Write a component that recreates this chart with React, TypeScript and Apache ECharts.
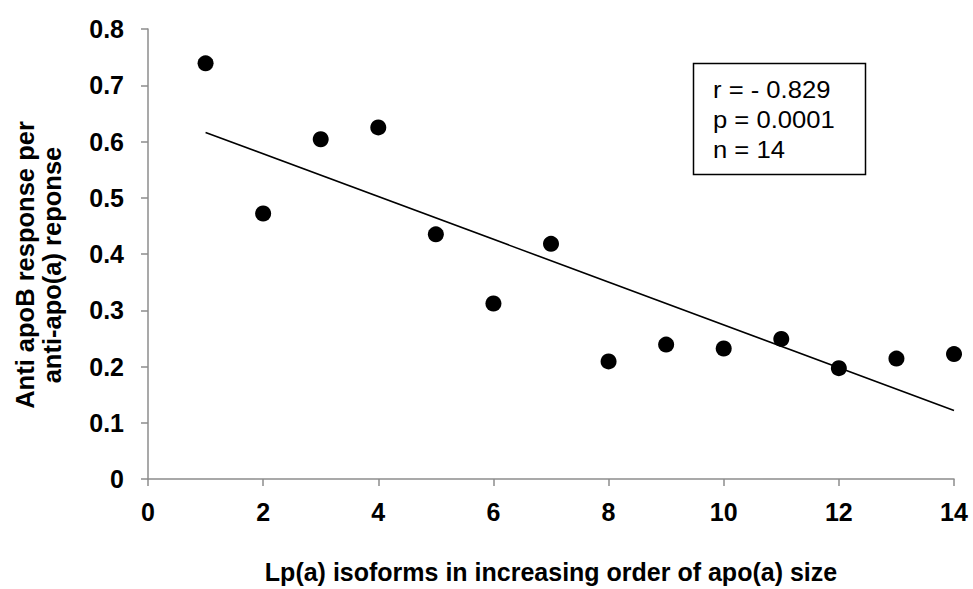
import React, { useEffect, useRef } from "react";
import * as echarts from "echarts";

const isoformRank = [1, 2, 3, 4, 5, 6, 7, 8, 9, 10, 11, 12, 13, 14];
const ratioValues = [0.739, 0.472, 0.604, 0.625, 0.435, 0.312, 0.418, 0.209, 0.239, 0.232, 0.249, 0.197, 0.214, 0.222];
const xTicks = [0, 2, 4, 6, 8, 10, 12, 14];
const yTicks = [0, 0.1, 0.2, 0.3, 0.4, 0.5, 0.6, 0.7, 0.8];
const statsLines = ["r = - 0.829", "p = 0.0001", "n = 14"];
const xTitle = "Lp(a) isoforms in increasing order of apo(a) size";
const yTitleLines = ["Anti apoB response per", "anti-apo(a) reponse"];

function regression(xs: number[], ys: number[]) {
  const n = xs.length;
  const mx = xs.reduce((a, b) => a + b, 0) / n;
  const my = ys.reduce((a, b) => a + b, 0) / n;
  let sxy = 0;
  let sxx = 0;
  for (let i = 0; i < n; i++) {
    sxy += (xs[i] - mx) * (ys[i] - my);
    sxx += (xs[i] - mx) * (xs[i] - mx);
  }
  const slope = sxy / sxx;
  return { slope, intercept: my - slope * mx };
}

export default function App() {
  const ref = useRef<HTMLDivElement>(null);
  useEffect(() => {
    if (!ref.current) return;
    const chart = echarts.init(ref.current, undefined, { renderer: "svg" });
    const fit = regression(isoformRank, ratioValues);
    const x0 = isoformRank[0];
    const x1 = isoformRank[isoformRank.length - 1];
    const trend = [
      [x0, fit.intercept + fit.slope * x0],
      [x1, fit.intercept + fit.slope * x1],
    ];
    const font = "Arial, 'Liberation Sans', sans-serif";
    chart.setOption({
      animation: false,
      backgroundColor: "#ffffff",
      grid: { left: 148, right: 19, top: 29, bottom: 104, containLabel: false },
      xAxis: {
        type: "value",
        min: xTicks[0],
        max: xTicks[xTicks.length - 1],
        interval: 2,
        splitLine: { show: false },
        axisLine: { show: true, lineStyle: { color: "#8c8c8c", width: 1.5 } },
        axisTick: { show: true, inside: false, length: 7, lineStyle: { color: "#8c8c8c", width: 1.5 } },
        axisLabel: { margin: 20, color: "#000", fontSize: 25, fontWeight: "bold", fontFamily: font },
        name: xTitle,
        nameLocation: "middle",
        nameGap: 80,
        nameTextStyle: { color: "#000", fontSize: 25, fontWeight: "bold", fontFamily: font },
      },
      yAxis: {
        type: "value",
        min: yTicks[0],
        max: yTicks[yTicks.length - 1],
        interval: 0.1,
        splitLine: { show: false },
        axisLine: { show: true, lineStyle: { color: "#8c8c8c", width: 1.5 } },
        axisTick: { show: true, inside: false, length: 7, lineStyle: { color: "#8c8c8c", width: 1.5 } },
        axisLabel: {
          margin: 24,
          color: "#000",
          fontSize: 25,
          fontWeight: "bold",
          fontFamily: font,
          formatter: (v: number) => (v === 0 ? "0" : v.toFixed(1)),
        },
      },
      graphic: [
        {
          type: "text",
          x: 38,
          y: 265,
          rotation: Math.PI / 2,
          style: {
            text: yTitleLines.join("\n"),
            fill: "#000",
            font: `bold 25.5px ${font}`,
            lineHeight: 27,
            align: "center",
            verticalAlign: "middle",
          },
        },
        {
          type: "group",
          children: [
            {
              type: "rect",
              shape: { x: 693.5, y: 63.5, width: 172, height: 111 },
              style: { fill: "#fff", stroke: "#000", lineWidth: 1.5 },
            },
            {
              type: "text",
              x: 713,
              y: 75,
              scaleX: 1.09,
              style: {
                text: statsLines.join("\n"),
                fill: "#000",
                font: `23.5px ${font}`,
                lineHeight: 30,
                align: "left",
                verticalAlign: "top",
              },
            },
          ],
        },
      ],
      series: [
        {
          type: "line",
          data: trend,
          symbol: "none",
          lineStyle: { color: "#000", width: 1.6 },
          silent: true,
          z: 2,
        },
        {
          type: "scatter",
          data: isoformRank.map((x, i) => [x, ratioValues[i]]),
          symbol: "circle",
          symbolSize: 16,
          itemStyle: { color: "#000", opacity: 1 },
          z: 3,
        },
      ],
    });
    return () => chart.dispose();
  }, []);
  return <div ref={ref} style={{ width: 973, height: 589, position: "absolute", left: 0, top: 0 }} />;
}
